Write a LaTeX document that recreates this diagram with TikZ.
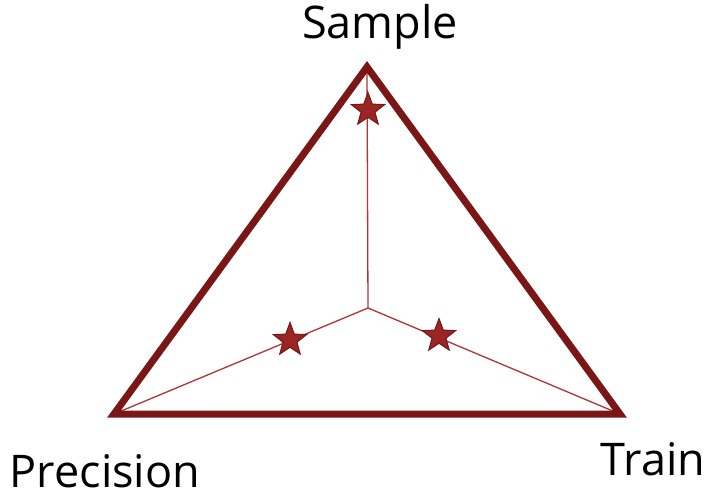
\documentclass[tikz,border=0pt]{standalone}
\usepackage{fontspec}
\setmainfont{Open Sans}
\usetikzlibrary{shapes.geometric}
\definecolor{tri}{RGB}{122,22,22}
\definecolor{inner}{RGB}{176,52,52}
\definecolor{starfill}{RGB}{155,36,36}
\definecolor{starline}{RGB}{115,22,22}
\tikzset{
  starmark/.style={star, star points=5, star point ratio=2.4, minimum size=35pt, inner sep=0pt, fill=starfill, draw=starline, line width=1pt},
  lbl/.style={inner sep=0pt, text=black, font=\fontsize{45}{45}\selectfont, anchor=base}
}
\begin{document}
\begin{tikzpicture}[x=1pt,y=-1pt]
\useasboundingbox (0,0) rectangle (707,493);
\coordinate (T) at (367,67);
\coordinate (L) at (114,414);
\coordinate (R) at (620,414);
\coordinate (C) at (368,308);
\draw[inner, line width=1.3pt] (C) -- (T);
\draw[inner, line width=1.3pt] (C) -- (L);
\draw[inner, line width=1.3pt] (C) -- (R);
\draw[tri, line width=7pt, line join=miter] (T) -- (L) -- (R) -- cycle;
\node[starmark] (s1) at (368,110) {};
\node[starmark] (s2) at (290,340) {};
\node[starmark] (s3) at (439,336) {};
\node[lbl] (sample) at (380,38) {Sample};
\node[lbl] (prec) at (105,487) {Precision};
\node[lbl] (train) at (653,475) {Train};
\end{tikzpicture}
\end{document}
